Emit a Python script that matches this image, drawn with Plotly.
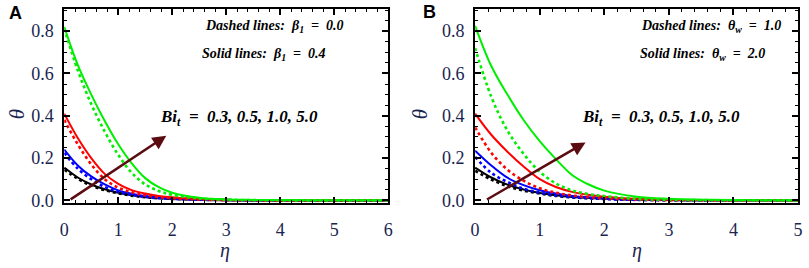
import plotly.graph_objects as go

# ---------------- data ----------------
eta_A = [0, 0.25, 0.5, 0.75, 1.0, 1.25, 1.5, 1.75, 2.0, 2.5, 3.0, 3.5, 4.0, 5.0, 6.0]
eta_B = [0, 0.25, 0.5, 0.75, 1.0, 1.25, 1.5, 1.75, 2.0, 2.5, 3.0, 3.5, 4.0, 5.0]

bi_labels = ["0.3", "0.5", "1.0", "5.0"]
colors = ["#000000", "#0000ff", "#ff0000", "#00ee00"]

# Panel A: solid beta1 = 0.4, dashed beta1 = 0.0
A_solid_03 = [0.155, 0.108, 0.075, 0.052, 0.036, 0.025, 0.017, 0.012, 0.008, 0.004, 0.001, 0.0005, 0.0, 0.0, 0.0]
A_solid_05 = [0.240, 0.165, 0.113, 0.075, 0.047, 0.031, 0.020, 0.013, 0.009, 0.004, 0.001, 0.0005, 0.0, 0.0, 0.0]
A_solid_10 = [0.410, 0.295, 0.200, 0.125, 0.078, 0.048, 0.032, 0.021, 0.014, 0.006, 0.002, 0.001, 0.0, 0.0, 0.0]
A_solid_50 = [0.820, 0.640, 0.500, 0.375, 0.265, 0.175, 0.105, 0.062, 0.036, 0.012, 0.004, 0.002, 0.001, 0.0, 0.0]
A_dash_03 = [0.145, 0.102, 0.070, 0.048, 0.033, 0.022, 0.015, 0.010, 0.007, 0.003, 0.001, 0.0, 0.0, 0.0, 0.0]
A_dash_05 = [0.225, 0.150, 0.100, 0.063, 0.040, 0.026, 0.016, 0.010, 0.007, 0.003, 0.001, 0.0, 0.0, 0.0, 0.0]
A_dash_10 = [0.380, 0.265, 0.170, 0.100, 0.060, 0.038, 0.024, 0.015, 0.010, 0.004, 0.001, 0.0, 0.0, 0.0, 0.0]
A_dash_50 = [0.812, 0.615, 0.455, 0.325, 0.215, 0.130, 0.075, 0.044, 0.026, 0.009, 0.003, 0.001, 0.0, 0.0, 0.0]

# Panel B: solid theta_w = 2.0, dashed theta_w = 1.0
B_solid_03 = [0.155, 0.108, 0.074, 0.051, 0.035, 0.024, 0.016, 0.011, 0.008, 0.003, 0.001, 0.0, 0.0, 0.0]
B_solid_05 = [0.235, 0.165, 0.107, 0.072, 0.048, 0.032, 0.021, 0.014, 0.009, 0.004, 0.001, 0.0, 0.0, 0.0]
B_solid_10 = [0.410, 0.310, 0.230, 0.160, 0.100, 0.063, 0.040, 0.026, 0.017, 0.007, 0.003, 0.001, 0.0, 0.0]
B_solid_50 = [0.825, 0.635, 0.500, 0.380, 0.280, 0.195, 0.120, 0.076, 0.046, 0.017, 0.007, 0.003, 0.001, 0.0]
B_dash_03 = [0.140, 0.098, 0.067, 0.046, 0.032, 0.021, 0.014, 0.010, 0.007, 0.003, 0.001, 0.0, 0.0, 0.0]
B_dash_05 = [0.205, 0.130, 0.087, 0.055, 0.036, 0.023, 0.015, 0.010, 0.006, 0.002, 0.001, 0.0, 0.0, 0.0]
B_dash_10 = [0.345, 0.225, 0.145, 0.093, 0.057, 0.036, 0.023, 0.015, 0.010, 0.004, 0.001, 0.0, 0.0, 0.0]
B_dash_50 = [0.720, 0.490, 0.330, 0.220, 0.135, 0.080, 0.047, 0.030, 0.020, 0.007, 0.002, 0.001, 0.0, 0.0]

x_ticks_A = [0, 1, 2, 3, 4, 5, 6]
x_ticks_B = [0, 1, 2, 3, 4, 5]
y_ticks = [0.0, 0.2, 0.4, 0.6, 0.8]

W, H = 809, 268
def px(x):
    return x / W
def py(y):
    return 1 - y / H

fig = go.Figure()

A_solid = [A_solid_03, A_solid_05, A_solid_10, A_solid_50]
A_dash = [A_dash_03, A_dash_05, A_dash_10, A_dash_50]
B_solid = [B_solid_03, B_solid_05, B_solid_10, B_solid_50]
B_dash = [B_dash_03, B_dash_05, B_dash_10, B_dash_50]

for i in range(4):
    fig.add_trace(go.Scatter(x=eta_A, y=A_dash[i], mode="lines", line=dict(color=colors[i], width=2.6, dash="dot", shape="spline"),
                             xaxis="x", yaxis="y", showlegend=False, name="Bi=" + bi_labels[i]))
    fig.add_trace(go.Scatter(x=eta_A, y=A_solid[i], mode="lines", line=dict(color=colors[i], width=2.0, shape="spline"),
                             xaxis="x", yaxis="y", showlegend=False, name="Bi=" + bi_labels[i]))
    fig.add_trace(go.Scatter(x=eta_B, y=B_dash[i], mode="lines", line=dict(color=colors[i], width=2.6, dash="dot", shape="spline"),
                             xaxis="x2", yaxis="y2", showlegend=False, name="Bi=" + bi_labels[i]))
    fig.add_trace(go.Scatter(x=eta_B, y=B_solid[i], mode="lines", line=dict(color=colors[i], width=2.0, shape="spline"),
                             xaxis="x2", yaxis="y2", showlegend=False, name="Bi=" + bi_labels[i]))

serif = "Liberation Serif, Times New Roman, Times, serif"
tickfont = dict(family=serif, size=18, color="#1a2550")
y_dom = [py(209), py(9)]
y_range = [-0.0115, 0.906]

def xaxis(domain, rng, tv, anchor):
    return dict(domain=domain, range=rng, tickvals=tv, ticktext=[str(v) for v in tv],
                showline=True, linecolor="black", linewidth=2, mirror="ticks",
                ticks="inside", ticklen=6, tickwidth=1.5, tickcolor="black",
                minor=dict(dtick=0.2, ticks="inside", ticklen=3, tickwidth=1, tickcolor="black"),
                showgrid=False, zeroline=False, tickfont=tickfont, anchor=anchor,
                ticklabelstandoff=10)

def yaxis(anchor):
    return dict(domain=y_dom, range=y_range, tickvals=y_ticks, ticktext=["%.1f" % v for v in y_ticks],
                showline=True, linecolor="black", linewidth=2, mirror="ticks",
                ticks="inside", ticklen=6, tickwidth=1.5, tickcolor="black",
                minor=dict(dtick=0.05, ticks="inside", ticklen=3, tickwidth=1, tickcolor="black"),
                showgrid=False, zeroline=False, tickfont=tickfont, anchor=anchor,
                ticklabelstandoff=5)

def note(text, x, y, font, xanchor="center", angle=0):
    return dict(text=text, x=px(x), y=py(y), xref="paper", yref="paper", showarrow=False,
                xanchor=xanchor, yanchor="middle", textangle=angle, font=font)

annotations = []
# panel labels
lab_font = dict(family="Liberation Sans, Arial, sans-serif", size=18, color="black")
annotations.append(note("<b>A</b>", 11, 13, lab_font))
annotations.append(note("<b>B</b>", 430, 12, lab_font))
# axis titles
for xc in (223, 640):
    annotations.append(note("<i>η</i>", xc, 258, dict(family=serif, size=20, color="#1a2550")))
for xc in (13, 421):
    annotations.append(note("<i>θ</i>", xc, 118, dict(family=serif, size=21, color="#1a2550"), angle=-90))
# legend-like notes
note_font = dict(family=serif, size=14, color="black")
annotations += [
    note("<b><i>Dashed lines:  β<sub>1</sub>  =  0.0</i></b>", 200, 27, note_font, "left"),
    note("<b><i>Solid lines:  β<sub>1</sub>  =  0.4</i></b>", 197, 56, note_font, "left"),
    note("<b><i>Dashed lines:  θ<sub>w</sub>  =  1.0</i></b>", 642, 27, note_font, "left"),
    note("<b><i>Solid lines:  θ<sub>w</sub>  =  2.0</i></b>", 641, 56, note_font, "left"),
]
bi_font = dict(family=serif, size=17, color="black")
annotations += [
    note("<b><i>Bi<sub>t</sub>  =  0.3, 0.5, 1.0, 5.0</i></b>", 155, 122, bi_font, "left"),
    note("<b><i>Bi<sub>t</sub>  =  0.3, 0.5, 1.0, 5.0</i></b>", 582, 122, bi_font, "left"),
]
# arrows
arrow_col = "#5a0c10"
annotations += [
    dict(x=1.89, y=0.305, ax=0.09, ay=0.0, xref="x", yref="y", axref="x", ayref="y", text="", showarrow=True,
         arrowhead=2, arrowsize=1.1, arrowwidth=2.5, arrowcolor=arrow_col),
    dict(x=1.71, y=0.274, ax=0.16, ay=0.0, xref="x2", yref="y2", axref="x2", ayref="y2", text="", showarrow=True,
         arrowhead=2, arrowsize=1.1, arrowwidth=2.5, arrowcolor=arrow_col),
]

fig.update_layout(
    width=W, height=H, margin=dict(l=0, r=0, t=0, b=0),
    paper_bgcolor="white", plot_bgcolor="white",
    xaxis=xaxis([px(60), px(388)], [0, 6], x_ticks_A, "y"),
    yaxis=yaxis("x"),
    xaxis2=xaxis([px(476), px(803)], [0, 5], x_ticks_B, "y2"),
    yaxis2=yaxis("x2"),
    annotations=annotations,
    showlegend=False,
)

fig.write_html("out.html", config={"displayModeBar": False},
               post_script="document.body.style.margin='0';document.body.style.padding='0';")
